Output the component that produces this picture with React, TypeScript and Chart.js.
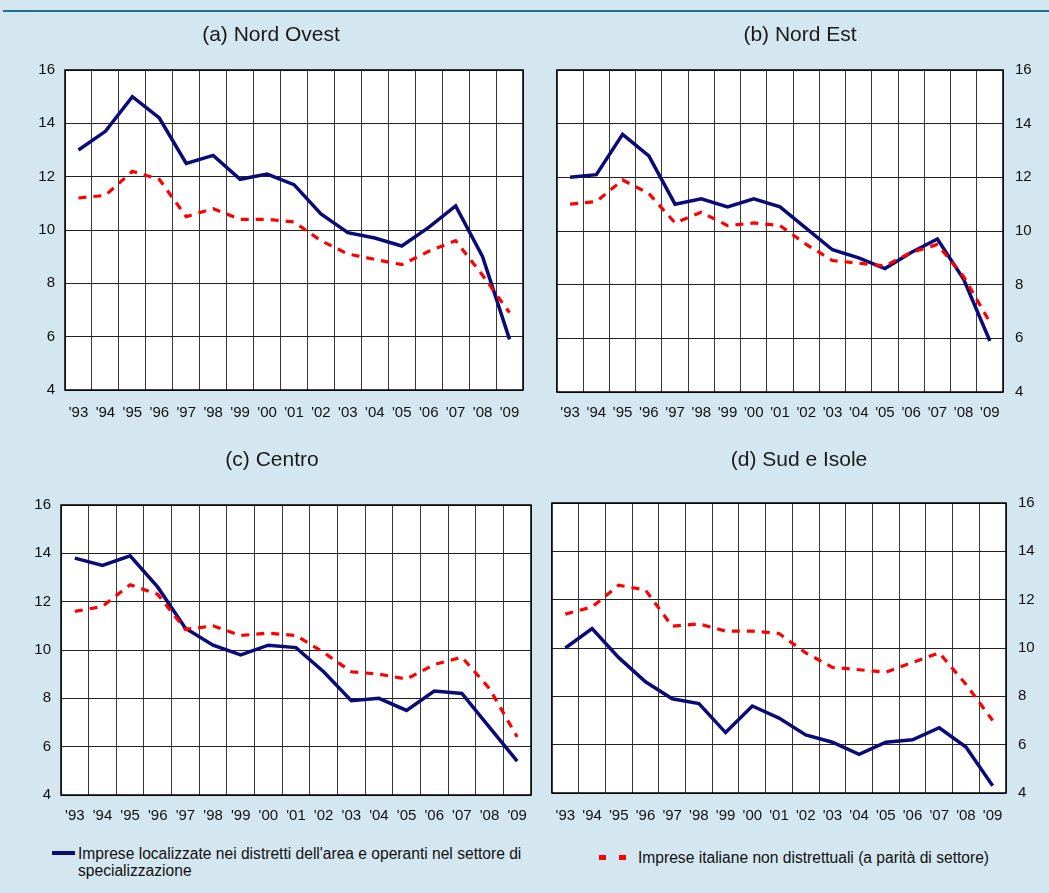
import React, { useEffect, useRef } from "react";
import { Chart, registerables } from "chart.js";

Chart.register(...registerables);

const years = ["'93", "'94", "'95", "'96", "'97", "'98", "'99", "'00", "'01", "'02", "'03", "'04", "'05", "'06", "'07", "'08", "'09"];

const nordOvestDistretti = [13.0, 13.7, 15.0, 14.2, 12.5, 12.8, 11.9, 12.1, 11.7, 10.6, 9.9, 9.7, 9.4, 10.1, 10.9, 9.0, 5.9];
const nordOvestNonDistr = [11.2, 11.3, 12.2, 11.9, 10.5, 10.8, 10.4, 10.4, 10.3, 9.6, 9.1, 8.9, 8.7, 9.2, 9.6, 8.3, 6.9];

const nordEstDistretti = [12.0, 12.1, 13.6, 12.8, 11.0, 11.2, 10.9, 11.2, 10.9, 10.1, 9.3, 9.0, 8.6, 9.2, 9.7, 8.2, 5.9];
const nordEstNonDistr = [11.0, 11.1, 11.9, 11.4, 10.3, 10.7, 10.2, 10.3, 10.2, 9.5, 8.9, 8.8, 8.7, 9.2, 9.5, 8.3, 6.6];

const centroDistretti = [13.8, 13.5, 13.9, 12.6, 10.9, 10.2, 9.8, 10.2, 10.1, 9.1, 7.9, 8.0, 7.5, 8.3, 8.2, 6.8, 5.4];
const centroNonDistr = [11.6, 11.8, 12.7, 12.3, 10.85, 11.0, 10.6, 10.7, 10.6, 9.9, 9.1, 9.0, 8.8, 9.4, 9.7, 8.4, 6.4];

const sudDistretti = [10.0, 10.8, 9.6, 8.6, 7.9, 7.7, 6.5, 7.6, 7.1, 6.4, 6.1, 5.6, 6.1, 6.2, 6.7, 5.9, 4.3];
const sudNonDistr = [11.4, 11.7, 12.6, 12.4, 10.9, 11.0, 10.7, 10.7, 10.6, 9.8, 9.2, 9.1, 9.0, 9.4, 9.8, 8.5, 7.0];

const yMin = 4;
const yMax = 16;
const yStep = 2;

const titles = ["(a) Nord Ovest", "(b) Nord Est", "(c) Centro", "(d) Sud e Isole"];
const legendDistretti = "Imprese localizzate nei distretti dell'area e operanti nel settore di";
const legendDistretti2 = "specializzazione";
const legendNonDistr = "Imprese italiane non distrettuali (a parità di settore)";

const FONT = "'Liberation Sans', Arial, Helvetica, sans-serif";
const NAVY = "#0b0b78";
const RED = "#ff0000";
const BG = "#d4e6f0";

type PanelProps = {
  title: string;
  distr: number[];
  nonDistr: number[];
  side: "left" | "right";
  left: number;
  top: number;
  width: number;
  height: number;
  padL: number;
  padR: number;
  padB: number;
  yWidth: number;
  xHeight: number;
  xPad: number;
  yPad: number;
  tTop: number;
  tBottom: number;
};

const boxPlugin = {
  id: "boxBorder",
  afterDatasetsDraw(chart: any) {
    const { ctx, chartArea } = chart;
    ctx.save();
    ctx.strokeStyle = "#000";
    ctx.lineWidth = 1.5;
    ctx.strokeRect(chartArea.left, chartArea.top, chartArea.right - chartArea.left, chartArea.bottom - chartArea.top);
    ctx.restore();
  },
};

const bgPlugin = {
  id: "plotBg",
  beforeDraw(chart: any) {
    const { ctx, chartArea } = chart;
    ctx.save();
    ctx.fillStyle = "#ffffff";
    ctx.fillRect(chartArea.left, chartArea.top, chartArea.right - chartArea.left, chartArea.bottom - chartArea.top);
    ctx.restore();
  },
};

function Panel(p: PanelProps) {
  const ref = useRef<HTMLCanvasElement | null>(null);
  useEffect(() => {
    if (!ref.current) return;
    const chart = new Chart(ref.current, {
      type: "line",
      data: {
        labels: years,
        datasets: [
          {
            label: legendNonDistr,
            data: p.nonDistr,
            borderColor: RED,
            borderWidth: 3.2,
            borderDash: [8, 7],
            pointRadius: 0,
            tension: 0,
            fill: false,
            order: 0,
          },
          {
            label: legendDistretti,
            data: p.distr,
            borderColor: NAVY,
            borderWidth: 3.5,
            pointRadius: 0,
            tension: 0,
            fill: false,
            order: 1,
          },
        ],
      },
      options: {
        animation: false,
        responsive: false,
        maintainAspectRatio: false,
        layout: { padding: { left: p.padL, right: p.padR, top: 0, bottom: p.padB } },
        plugins: {
          legend: { display: false },
          tooltip: { enabled: false },
          title: {
            display: true,
            text: p.title,
            color: "#1a1a1a",
            font: { family: FONT, size: 21, weight: "normal", lineHeight: 1.2 },
            padding: { top: p.tTop, bottom: p.tBottom },
          },
        },
        scales: {
          x: {
            type: "category",
            offset: true,
            grid: { offset: true, color: "#3a3a3a", lineWidth: 1, drawTicks: false },
            border: { display: false },
            ticks: {
              autoSkip: false,
              maxRotation: 0,
              minRotation: 0,
              padding: p.xPad,
              color: "#111",
              font: { family: FONT, size: 15 },
            },
            afterFit: (s: any) => {
              s.height = p.xHeight;
            },
          },
          y: {
            position: p.side,
            min: yMin,
            max: yMax,
            grid: { color: "#222", lineWidth: 1, drawTicks: false },
            border: { display: false },
            ticks: {
              stepSize: yStep,
              padding: p.yPad,
              color: "#111",
              font: { family: FONT, size: 15 },
            },
            afterFit: (s: any) => {
              s.width = p.yWidth;
            },
          },
        },
      },
      plugins: [bgPlugin, boxPlugin],
    } as any);
    return () => chart.destroy();
  }, []);
  return (
    <canvas
      ref={ref}
      width={p.width}
      height={p.height}
      style={{ position: "absolute", left: p.left, top: p.top, width: p.width, height: p.height }}
    />
  );
}

export default function App() {
  return (
    <div
      style={{
        position: "absolute",
        left: 0,
        top: 0,
        width: 1049,
        height: 893,
        background: BG,
        overflow: "hidden",
        fontFamily: FONT,
      }}
    >
      <div style={{ position: "absolute", left: 3, top: 10, width: 1046, height: 2, background: "#1f6e96" }} />
      <Panel title={titles[0]} distr={nordOvestDistretti} nonDistr={nordOvestNonDistr} side="left"
        left={0} top={0} width={540} height={440} padL={19} padR={17} padB={10} yWidth={46} xHeight={40}
        xPad={13.5} yPad={10} tTop={22.4} tBottom={22.4} />
      <Panel title={titles[1]} distr={nordEstDistretti} nonDistr={nordEstNonDistr} side="right"
        left={540} top={0} width={509} height={440} padL={17} padR={6} padB={10} yWidth={40} xHeight={38}
        xPad={12} yPad={12} tTop={22.4} tBottom={22.4} />
      <Panel title={titles[2]} distr={centroDistretti} nonDistr={centroNonDistr} side="left"
        left={0} top={425} width={540} height={410} padL={13} padR={9} padB={5} yWidth={48} xHeight={35}
        xPad={11.5} yPad={10} tTop={23.1} tBottom={31.7} />
      <Panel title={titles[3]} distr={sudDistretti} nonDistr={sudNonDistr} side="right"
        left={540} top={425} width={509} height={410} padL={12} padR={3} padB={5} yWidth={40} xHeight={37}
        xPad={13.5} yPad={12} tTop={23.1} tBottom={29.7} />
      <div style={{ position: "absolute", left: 52, top: 851, width: 23, height: 3.5, background: NAVY }} />
      <div style={{ position: "absolute", left: 78, top: 845, fontSize: 15.6, lineHeight: "17px", color: "#111", whiteSpace: "nowrap" }}>
        {legendDistretti}
        <br />
        {legendDistretti2}
      </div>
      <div style={{ position: "absolute", left: 599, top: 855, width: 7, height: 4.5, background: RED }} />
      <div style={{ position: "absolute", left: 619, top: 855, width: 7, height: 4.5, background: RED }} />
      <div style={{ position: "absolute", left: 638, top: 849.4, fontSize: 15.6, lineHeight: "17px", color: "#111", whiteSpace: "nowrap" }}>
        {legendNonDistr}
      </div>
    </div>
  );
}
